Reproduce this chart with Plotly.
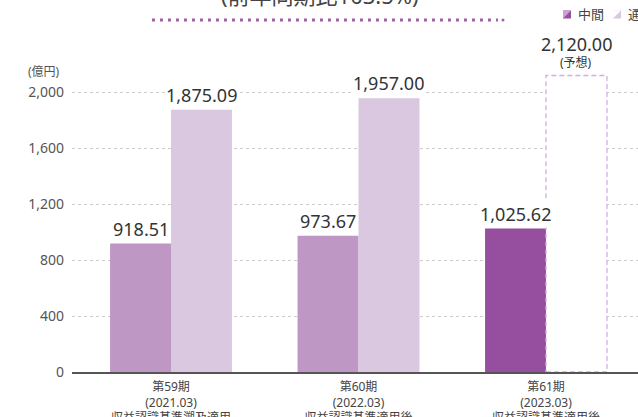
import plotly.graph_objects as go

# ---- data ----
periods = ["第59期", "第60期", "第61期"]
fiscal = ["(2021.03)", "(2022.03)", "(2023.03)"]
notes = ["収益認識基準遡及適用", "収益認識基準適用後", "収益認識基準適用後"]
interim = [918.51, 973.67, 1025.62]
fullyear = [1875.09, 1957.00, 2120.00]
forecast_flags = [False, False, True]
series_names = ["中間", "通期"]
y_ticks = [0, 400, 800, 1200, 1600, 2000]
unit_label = "(億円)"
forecast_label = "(予想)"
title_text = "(前年同期比103.5%)"

# ---- style ----
W, H = 638, 417
ML, MR, MT, MB = 72, 0, 0, 45
PW, PH = W - ML - MR, H - MT - MB
PX_PER_UNIT = 0.13985
PX_PER_CAT = 187.5
X0 = -99 / PX_PER_CAT
BARW = 0.325

FONT = "Noto Sans, Noto Sans CJK JP, sans-serif"
C_INT = "#be97c4"
C_INT_LATEST = "#964f9e"
C_FULL = "#dac7e0"
C_DASH = "#d4ade0"
C_TEXT = "#333333"
C_TICK = "#555555"


def px2x(px):
    return (px - ML) / PW


def px2y(py):
    return (H - MB - py) / PH


xs = list(range(len(periods)))
int_colors = [C_INT_LATEST if f else C_INT for f in forecast_flags]
full_colors = ["#ffffff" if f else C_FULL for f in forecast_flags]

fig = go.Figure()
fig.add_trace(go.Bar(x=xs, y=interim, name=series_names[0], hoverinfo="skip",
                     marker=dict(color=int_colors, line=dict(width=0))))
fig.add_trace(go.Bar(x=xs, y=fullyear, name=series_names[1], hoverinfo="skip",
                     marker=dict(color=full_colors, line=dict(width=0))))

annotations = []
shapes = []
for i, x in enumerate(xs):
    annotations.append(dict(x=x - BARW / 2, y=interim[i], xref="x", yref="y",
                            text=f"{interim[i]:,.2f}", showarrow=False,
                            yanchor="bottom", yshift=1, bgcolor="white",
                            font=dict(size=18, color=C_TEXT, family=FONT)))
    if forecast_flags[i]:
        annotations.append(dict(x=x + BARW / 2, y=fullyear[i], xref="x", yref="y",
                                text=forecast_label, showarrow=False,
                                yanchor="bottom", yshift=3,
                                font=dict(size=12, color=C_TEXT, family=FONT)))
        annotations.append(dict(x=x + BARW / 2, y=fullyear[i], xref="x", yref="y",
                                text=f"{fullyear[i]:,.2f}", showarrow=False,
                                yanchor="bottom", yshift=18,
                                font=dict(size=18, color=C_TEXT, family=FONT)))
        shapes.append(dict(type="rect", xref="x", yref="y",
                           x0=x, x1=x + BARW, y0=0, y1=fullyear[i],
                           line=dict(color=C_DASH, width=1.3, dash="5px,3px"),
                           fillcolor="rgba(0,0,0,0)", layer="above"))
    else:
        annotations.append(dict(x=x + BARW / 2, y=fullyear[i], xref="x", yref="y",
                                text=f"{fullyear[i]:,.2f}", showarrow=False,
                                yanchor="bottom", yshift=1, bgcolor="white",
                                font=dict(size=18, color=C_TEXT, family=FONT)))

# unit label
annotations.append(dict(x=px2x(44), y=px2y(71), xref="paper", yref="paper",
                        text=unit_label, showarrow=False,
                        xanchor="center", yanchor="middle",
                        font=dict(size=12, color=C_TICK, family=FONT)))
# title (partially cut at top)
annotations.append(dict(x=px2x(320), y=px2y(-5), xref="paper", yref="paper",
                        text=title_text, showarrow=False,
                        xanchor="center", yanchor="middle",
                        font=dict(size=22, color="#444444", family=FONT)))
# dotted rule under the title
shapes.append(dict(type="line", xref="paper", yref="paper",
                   x0=px2x(152), x1=px2x(498), y0=px2y(20), y1=px2y(20),
                   line=dict(color="#a45eaa", width=3, dash="3px,5px")))
shapes.append(dict(type="circle", xref="paper", yref="paper",
                   x0=px2x(501.5), x1=px2x(504.5), y0=px2y(18.5), y1=px2y(21.5),
                   fillcolor="#a45eaa", line=dict(width=0)))

# legend (manual, cut at right edge)
legend_items = [(563, C_INT_LATEST, "#c9a2cf", series_names[0]),
                (613, C_FULL, "#ffffff", series_names[1])]
for lx, col, corner, name in legend_items:
    x0, x1, y0, y1 = px2x(lx), px2x(lx + 8), px2y(18.5), px2y(10.5)
    shapes.append(dict(type="rect", xref="paper", yref="paper",
                       x0=x0, x1=x1, y0=y0, y1=y1,
                       fillcolor=col, line=dict(width=0)))
    shapes.append(dict(type="path", xref="paper", yref="paper",
                       path=f"M {x0},{y0} L {x0},{y1} L {x1},{y1} Z",
                       fillcolor=corner, line=dict(width=0)))
    annotations.append(dict(x=px2x(lx + 13), y=px2y(14.5), xref="paper", yref="paper",
                            text=name, showarrow=False, xanchor="left",
                            yanchor="middle",
                            font=dict(size=13, color="#444444", family=FONT)))

ticktext = [f"{p}<br>{f}<br>{n}" for p, f, n in zip(periods, fiscal, notes)]

fig.update_layout(
    width=W, height=H,
    margin=dict(l=ML, r=MR, t=MT, b=MB, pad=0, autoexpand=False),
    paper_bgcolor="white", plot_bgcolor="white",
    barmode="group", bargap=1 - 2 * BARW, bargroupgap=0,
    showlegend=False, hovermode=False,
    font=dict(family=FONT, color=C_TICK),
    annotations=annotations, shapes=shapes,
    xaxis=dict(range=[X0, X0 + PW / PX_PER_CAT], tickvals=xs, ticktext=ticktext,
               showgrid=False, zeroline=False, showline=True, automargin=False,
               linecolor="#555555", linewidth=1.5, ticks="",
               ticklabelstandoff=3,
               tickfont=dict(size=12, color="#444444", family=FONT)),
    yaxis=dict(range=[0, PH / PX_PER_UNIT], tickvals=y_ticks, automargin=False,
               tickformat=",", showgrid=True, gridcolor="#cccccc",
               griddash="3px,3px", gridwidth=1, zeroline=False, showline=False,
               ticks="", ticklabelstandoff=7,
               tickfont=dict(size=14, color=C_TICK, family=FONT)),
)

fig.write_html("out.html", config={"displayModeBar": False, "staticPlot": True},
               post_script="document.body.style.margin='0';document.body.style.overflow='hidden';")
